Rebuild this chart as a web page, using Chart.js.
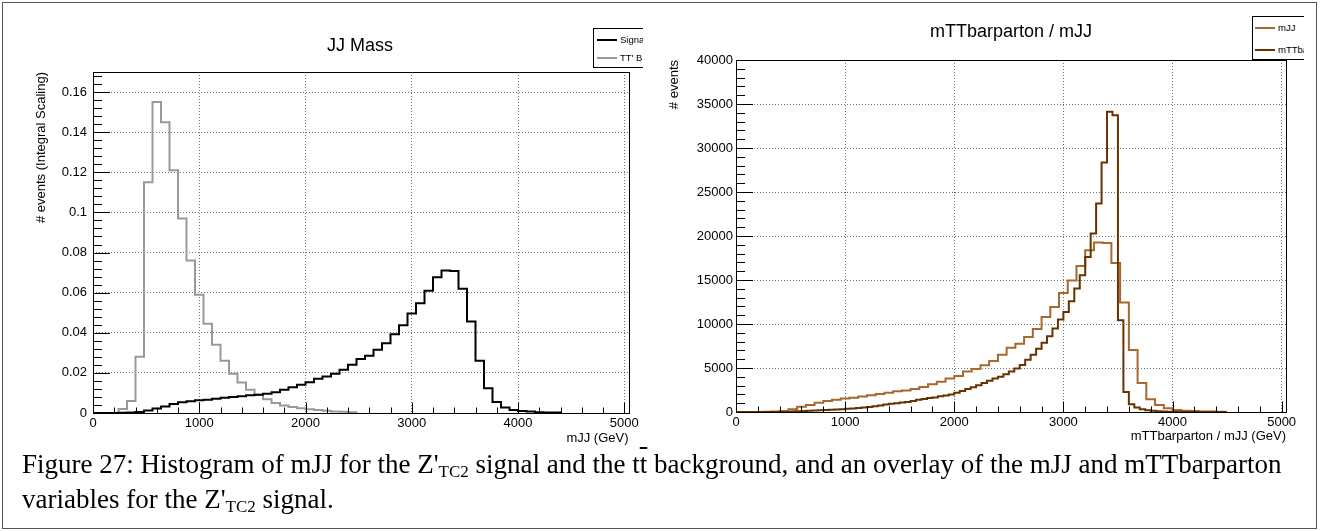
<!DOCTYPE html>
<html>
<head>
<meta charset="utf-8">
<script src="https://cdn.jsdelivr.net/npm/chart.js@4/dist/chart.umd.min.js"></script>
<style>
  body { margin: 0; background: #fff; width: 1327px; height: 531px; overflow: hidden; }
  .outer { position: absolute; left: 2px; top: 2px; width: 1315px; height: 527px; box-sizing: border-box; border: 1px solid #555; }
  .pad { position: absolute; top: 3px; height: 447px; overflow: hidden; }
  .pad canvas { position: absolute; left: 0; top: 0; }
  .title { position: absolute; font-family: "Liberation Sans", Arial, sans-serif; font-size: 18px; color: #000; transform: translate(-50%, -50%); white-space: nowrap; }
  .legend { position: absolute; box-sizing: border-box; border: 1px solid #000; background: #fff; font-family: "Liberation Sans", Arial, sans-serif; font-size: 9.5px; color: #000; }
  .entry { position: absolute; left: 0; height: 12px; line-height: 12px; white-space: nowrap; }
  .swatch { position: absolute; top: 5px; width: 20px; height: 2px; }
  .caption { position: absolute; left: 22px; top: 447px; font-family: "Liberation Serif", "Times New Roman", serif; font-size: 27px; line-height: 35px; color: #000; white-space: nowrap; }
  .caption .sub { font-size: 17px; vertical-align: -4px; line-height: 0; }
  .caption .bar { text-decoration: overline; }
</style>
</head>
<body>
<div class="outer"></div>

<div class="pad" style="left:3px; width:640px;">
  <canvas id="left-chart" width="640" height="447"></canvas>
  <div class="title" style="left:357px; top:42px;">JJ Mass</div>
  <div class="legend" style="left:590px; top:25px; width:120px; height:40px;">
    <div class="entry" style="top:5px;"><span class="swatch" style="left:3px; background:#000;"></span><span style="margin-left:26px;">Signal</span></div>
    <div class="entry" style="top:23px;"><span class="swatch" style="left:3px; background:#999;"></span><span style="margin-left:26px;">TT' Background</span></div>
  </div>
</div>

<div class="pad" style="left:655px; width:649px;">
  <canvas id="right-chart" width="649" height="447"></canvas>
  <div class="title" style="left:356px; top:28px;">mTTbarparton / mJJ</div>
  <div class="legend" style="left:597px; top:13px; width:120px; height:44px;">
    <div class="entry" style="top:5px;"><span class="swatch" style="left:2px; background:#a5682f;"></span><span style="margin-left:25px;">mJJ</span></div>
    <div class="entry" style="top:27px;"><span class="swatch" style="left:2px; background:#663300;"></span><span style="margin-left:25px;">mTTbarparton</span></div>
  </div>
</div>

<div class="caption">Figure 27: Histogram of mJJ for the Z'<span class="sub">TC2</span> signal and the t<span class="bar">t</span> background, and an overlay of the mJJ and mTTbarparton<br>variables for the Z'<span class="sub">TC2</span> signal.</div>

<script>
// bin widths in GeV
const mjjBinWidth = 80;
const mttBinWidth = 50;
const axisMax = 5040;

// tick labels
const xTicks = [0, 1000, 2000, 3000, 4000, 5000];
const leftYTicks = [0, 0.02, 0.04, 0.06, 0.08, 0.1, 0.12, 0.14, 0.16];
const rightYTicks = [0, 5000, 10000, 15000, 20000, 25000, 30000, 35000, 40000];

// left pad: integral-scaled mJJ, one value per 80 GeV bin starting at 0
const signalMjj = [
    0, 0, 0, 0.0001, 0.0003, 0.0005, 0.0012, 0.0023, 0.0032, 0.0045,
    0.0053, 0.0058, 0.0063, 0.0066, 0.0071, 0.0076, 0.008, 0.0083, 0.0088, 0.0091,
    0.0096, 0.0104, 0.0116, 0.0128, 0.0141, 0.0153, 0.0171, 0.0182, 0.0196, 0.0216,
    0.024, 0.0269, 0.0285, 0.0315, 0.0348, 0.0393, 0.0438, 0.0496, 0.0547, 0.061,
    0.0677, 0.0711, 0.0708, 0.062, 0.0456, 0.026, 0.0124, 0.0055, 0.0028, 0.0015,
    0.001, 0.0007, 0.0004, 0.0003, 0.0002
];
const ttbarMjj = [
    0, 0, 0, 0.002, 0.006, 0.028, 0.115, 0.155, 0.145, 0.121,
    0.097, 0.076, 0.059, 0.0445, 0.034, 0.026, 0.0196, 0.0152, 0.0116, 0.0091,
    0.0068, 0.005, 0.0038, 0.003, 0.0024, 0.0019, 0.0015, 0.0011, 0.0008, 0.0006,
    0.0004
];

// right pad: event counts, mJJ in 80 GeV bins, mTTbarparton in 50 GeV bins
const mjjEvents = [
    0, 0, 0, 20, 60, 120, 300, 600, 800, 1050,
    1250, 1400, 1520, 1620, 1750, 1900, 2050, 2200, 2350, 2450,
    2600, 2850, 3150, 3450, 3800, 4100, 4600, 4900, 5300, 5800,
    6500, 7300, 7750, 8530, 9440, 10800, 11940, 13530, 14930, 16600,
    18380, 19250, 19200, 16940, 12430, 7050, 3300, 1440, 800, 420,
    230, 150, 100, 70, 50, 30
];
const mttEvents = [
    0, 0, 0, 0, 0, 0, 0, 0, 0, 0,
    60, 80, 100, 140, 160, 190, 220, 250, 290, 320,
    360, 400, 460, 520, 580, 650, 750, 850, 930, 1000,
    1070, 1150, 1250, 1380, 1480, 1580, 1650, 1780, 1880, 2000,
    2200, 2400, 2600, 2800, 3050, 3300, 3550, 3800, 4000, 4300,
    4600, 4950, 5350, 5950, 6500, 7200, 7880, 8600, 9475, 10500,
    11370, 12580, 14020, 15540, 17620, 20280, 23690, 28350, 34110, 33730,
    10420, 2270, 870, 500, 300, 200, 130, 90, 60, 40,
    25, 15, 10, 0, 0, 0, 0, 0, 0, 0
];

Chart.defaults.font.family = '"Liberation Sans", Arial, sans-serif';
Chart.defaults.font.size = 13;
Chart.defaults.color = '#000';

// bin values -> step points at bin edges
function histPoints(values, width) {
    const points = values.map((v, i) => ({ x: i * width, y: v }));
    points.push({ x: values.length * width, y: 0 });
    return points;
}

// ROOT style frame with inward major/minor ticks
const rootFrame = {
    id: 'rootFrame',
    afterDatasetsDraw(chart, args, opts) {
        const { ctx, chartArea: a, scales: { x, y } } = chart;
        ctx.save();
        ctx.strokeStyle = '#000';
        ctx.lineWidth = 1;
        ctx.beginPath();
        for (let i = 0; i * opts.xMinor <= x.max; i++) {
            const px = Math.round(x.getPixelForValue(i * opts.xMinor)) + 0.5;
            const len = i % 5 === 0 ? 10.5 : 5.5;
            ctx.moveTo(px, a.bottom);
            ctx.lineTo(px, a.bottom - len);
        }
        for (let i = 0; i * opts.yMinor <= y.max * 1.000001; i++) {
            const py = Math.round(y.getPixelForValue(i * opts.yMinor)) + 0.5;
            const len = i % 5 === 0 ? 17 : 9;
            ctx.moveTo(a.left, py);
            ctx.lineTo(a.left + len, py);
        }
        ctx.stroke();
        ctx.strokeRect(Math.round(a.left) + 0.5, Math.round(a.top) + 0.5,
            Math.round(a.right - a.left), Math.round(a.bottom - a.top));
        ctx.restore();
    }
};

function gridOpts() {
    return { color: 'rgba(0,0,0,0.55)', lineWidth: 1, drawTicks: false };
}

function makeChart(id, cfg) {
    return new Chart(document.getElementById(id), {
        type: 'line',
        data: { datasets: cfg.datasets },
        options: {
            responsive: false,
            animation: false,
            devicePixelRatio: 1,
            layout: { padding: { top: cfg.top, right: cfg.right, left: 0, bottom: 0 } },
            elements: { point: { radius: 0 }, line: { borderWidth: 2, tension: 0, stepped: true, fill: false } },
            plugins: {
                legend: { display: false },
                tooltip: { enabled: false },
                rootFrame: { xMinor: 200, yMinor: cfg.yMinor }
            },
            scales: {
                x: {
                    type: 'linear',
                    min: 0,
                    max: axisMax,
                    afterBuildTicks: s => { s.ticks = xTicks.map(v => ({ value: v })); },
                    afterFit: s => { s.height = cfg.xHeight; },
                    grid: gridOpts(),
                    border: { display: false, dash: [1, 2] },
                    ticks: {
                        autoSkip: false, maxRotation: 0, padding: 3,
                        callback: v => String(v)
                    },
                    title: {
                        display: true, text: cfg.xTitle, align: 'end',
                        padding: { top: 0, bottom: cfg.xTitlePad }
                    }
                },
                y: {
                    type: 'linear',
                    min: 0,
                    max: cfg.yMax,
                    afterBuildTicks: s => { s.ticks = cfg.yTicks.map(v => ({ value: v })); },
                    afterFit: s => { s.width = cfg.yWidth; },
                    grid: gridOpts(),
                    border: { display: false, dash: [1, 2] },
                    ticks: {
                        autoSkip: false, padding: cfg.yTickPad,
                        callback: v => String(v)
                    },
                    title: {
                        display: true, text: cfg.yTitle, align: 'end',
                        padding: { top: cfg.yTitlePad, bottom: 0 }
                    }
                }
            }
        },
        plugins: [rootFrame]
    });
}

makeChart('left-chart', {
    top: 69, right: 14.5, xHeight: 37, yWidth: 90,
    yMax: 0.17, yTicks: leftYTicks, yMinor: 0.004, yTickPad: 6,
    xTitle: 'mJJ (GeV)', xTitlePad: 4,
    yTitle: '# events (Integral Scaling)', yTitlePad: 31,
    datasets: [
        { label: 'Signal', data: histPoints(signalMjj, mjjBinWidth), borderColor: '#000', order: 0 },
        { label: "TT' Background", data: histPoints(ttbarMjj, mjjBinWidth), borderColor: '#999', order: 1 }
    ]
});

makeChart('right-chart', {
    top: 57, right: 18, xHeight: 38, yWidth: 81,
    yMax: 40000, yTicks: rightYTicks, yMinor: 1000, yTickPad: 3,
    xTitle: 'mTTbarparton / mJJ (GeV)', xTitlePad: 6,
    yTitle: '# events', yTitlePad: 12,
    datasets: [
        { label: 'mTTbarparton', data: histPoints(mttEvents, mttBinWidth), borderColor: '#663300', order: 0 },
        { label: 'mJJ', data: histPoints(mjjEvents, mjjBinWidth), borderColor: '#a5682f', order: 1 }
    ]
});
</script>
</body>
</html>
